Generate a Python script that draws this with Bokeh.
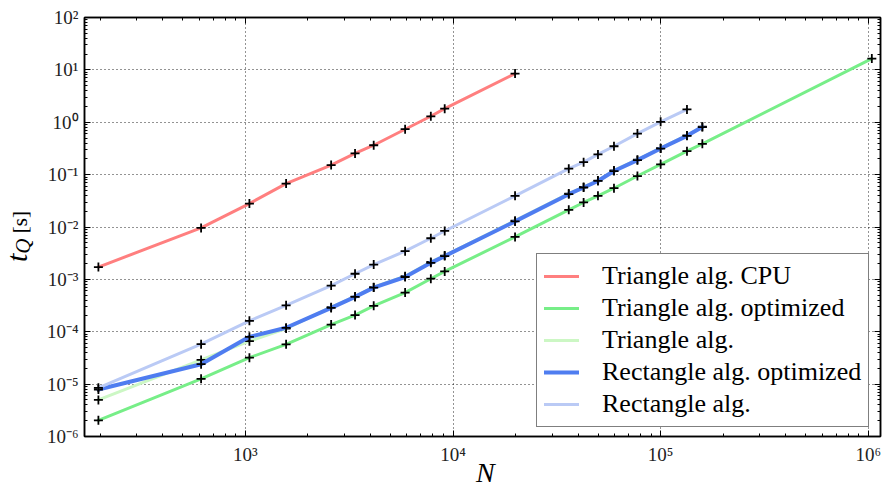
from bokeh.plotting import figure
from bokeh.models import (Range1d, FixedTicker, LogAxis, Legend, LegendItem,
                          CustomJSTickFormatter, Div)
from bokeh.layouts import column, row
from bokeh.embed import file_html
from bokeh.resources import INLINE

# ---- data ----
N = [196, 612, 1046, 1571, 2589, 3375, 4150, 5880, 7820, 9120, 19900,
     36100, 42560, 49900, 59600, 77300, 100000, 133900, 158800, 1040000]

tri_cpu = [1.72e-3, 9.6e-3, 0.028, 0.0675, 0.152, 0.254, 0.364, 0.736, 1.30, 1.82, 8.5]
tri_opt = [2.04e-6, 1.26e-5, 3.2e-5, 5.75e-5, 1.37e-4, 2.08e-4, 3.13e-4, 5.6e-4,
           1.03e-3, 1.42e-3, 6.46e-3, 0.0213, 0.0294, 0.0393, 0.055, 0.094,
           0.157, 0.28, 0.388, 16.4]
tri_alg = [5.0e-6, 2.9e-5, 6.6e-5, 1.15e-4, 2.95e-4, 4.7e-4, 7.1e-4, 1.15e-3,
           2.15e-3, 2.85e-3, 0.0132, 0.0435, 0.058, 0.077, 0.12, 0.193, 0.32,
           0.56, 0.82]
rect_opt = [7.9e-6, 2.4e-5, 8.0e-5, 1.19e-4, 2.85e-4, 4.63e-4, 6.96e-4, 1.11e-3,
            2.07e-3, 2.78e-3, 0.0128, 0.0423, 0.0568, 0.0757, 0.117, 0.189,
            0.315, 0.55, 0.81]
rect_alg = [8.5e-6, 5.8e-5, 1.62e-4, 3.19e-4, 7.6e-4, 1.28e-3, 1.92e-3, 3.45e-3,
            6.1e-3, 8.4e-3, 0.0393, 0.13, 0.173, 0.243, 0.348, 0.607, 1.02, 1.76]

labels = ["Triangle alg. CPU", "Triangle alg. optimized", "Triangle alg.",
          "Rectangle alg. optimized", "Rectangle alg."]
colors = ["#FF7F7F", "#77EE88", "#CCF7C4", "#4F7DF0", "#BACAF5"]
widths = [3, 3, 3, 4, 3]
series = [tri_cpu, tri_opt, tri_alg, rect_opt, rect_alg]

x_major = [1e3, 1e4, 1e5, 1e6]
y_major = [1e-6, 1e-5, 1e-4, 1e-3, 1e-2, 1e-1, 1e0, 1e1, 1e2]

FONT = "Liberation Serif"

p = figure(width=848, height=467, x_axis_type="log", y_axis_type="log",
           x_range=Range1d(168, 1.145e6), y_range=Range1d(1e-6, 1e2),
           output_backend="svg", toolbar_location=None,
           min_border_left=50, min_border_right=2, min_border_top=17,
           min_border_bottom=28)
p.background_fill_color = "white"
p.border_fill_color = "white"
p.outline_line_color = "black"
p.outline_line_width = 1.5

x_minor = [k * 10 ** e for e in range(2, 7) for k in range(1, 10)]
y_minor = [k * 10 ** e for e in range(-6, 2) for k in range(1, 10)]
xt = FixedTicker(ticks=x_major, minor_ticks=x_minor)
yt = FixedTicker(ticks=y_major, minor_ticks=y_minor)

fmt = CustomJSTickFormatter(code="""
const sup = {"-":"\u207b","0":"\u2070","1":"\u00b9","2":"\u00b2","3":"\u00b3","4":"\u2074",
             "5":"\u2075","6":"\u2076","7":"\u2077","8":"\u2078","9":"\u2079"};
const e = Math.round(Math.log10(tick));
return "10" + String(e).split("").map(c => sup[c]).join("");
""")
blank = CustomJSTickFormatter(code='return "";')

def style_axis(ax, ticker, show_labels):
    ax.ticker = ticker
    ax.axis_line_color = "black"
    ax.axis_line_width = 1.5
    ax.major_tick_in = 6
    ax.major_tick_out = 0
    ax.minor_tick_in = 3
    ax.minor_tick_out = 0
    ax.major_tick_line_color = "black"
    ax.minor_tick_line_color = "black"
    ax.major_tick_line_width = 1
    ax.minor_tick_line_width = 1
    ax.major_label_text_font = FONT
    if show_labels:
        ax.formatter = fmt
        ax.major_label_text_font_size = "19px"
        ax.major_label_text_color = "#222222"
    else:
        ax.formatter = blank
        ax.major_label_text_font_size = "2px"
        ax.major_label_standoff = 0

style_axis(p.xaxis[0], xt, True)
style_axis(p.yaxis[0], yt, True)
p.xaxis[0].major_label_standoff = 7
p.yaxis[0].major_label_standoff = 6

top = LogAxis()
right = LogAxis()
style_axis(top, xt, False)
style_axis(right, yt, False)
p.add_layout(top, "above")
p.add_layout(right, "right")

p.xgrid.ticker = xt
p.ygrid.ticker = yt
for g in (p.xgrid, p.ygrid):
    g.grid_line_color = "black"
    g.grid_line_dash = "1 3"
    g.grid_line_width = 1
    g.grid_line_alpha = 0.85

items = []
for lab, col, w, ys in zip(labels, colors, widths, series):
    xs = N[:len(ys)]
    r = p.line(xs, ys, line_color=col, line_width=w, line_join="round", line_cap="round")
    items.append(LegendItem(label=lab, renderers=[r]))
    p.scatter(xs, ys, marker="cross", size=9, line_color="black", line_width=1.8)

legend = Legend(items=items, location=(452, 9))
legend.label_text_font = FONT
legend.label_text_font_size = "26px"
legend.label_text_color = "black"
legend.glyph_width = 35
legend.glyph_height = 20
legend.label_standoff = 23
legend.padding = 7
legend.spacing = 2
legend.margin = 0
legend.border_line_color = "black"
legend.border_line_width = 1.5
legend.background_fill_alpha = 1
p.add_layout(legend, "center")

# axis titles as real HTML text beside the canvas
ylab_html = (
    '<div style="position:absolute; left:0px; top:262px; transform-origin:0 0; '
    'transform:rotate(-90deg); white-space:nowrap; font-family:\'Liberation Serif\'; '
    'line-height:34px; color:black;">'
    '<i style="font-size:30px">t</i>'
    '<i style="font-size:21px; position:relative; top:3px">Q</i>'
    '<span style="font-size:21px"> [s]</span></div>'
)
xlab_html = (
    '<div style="padding-left:476px; font-family:\'Liberation Serif\'; font-style:italic; '
    'font-size:28px; line-height:11px; height:22px; color:black; white-space:nowrap;">N</div>'
)
ydiv = Div(text=ylab_html, width=34, height=467, margin=0)
xdiv = Div(text=xlab_html, width=882, height=22, margin=0)

layout = column(row(ydiv, p, spacing=0), xdiv, spacing=0)

open("out.html", "w").write(file_html(layout, INLINE))
